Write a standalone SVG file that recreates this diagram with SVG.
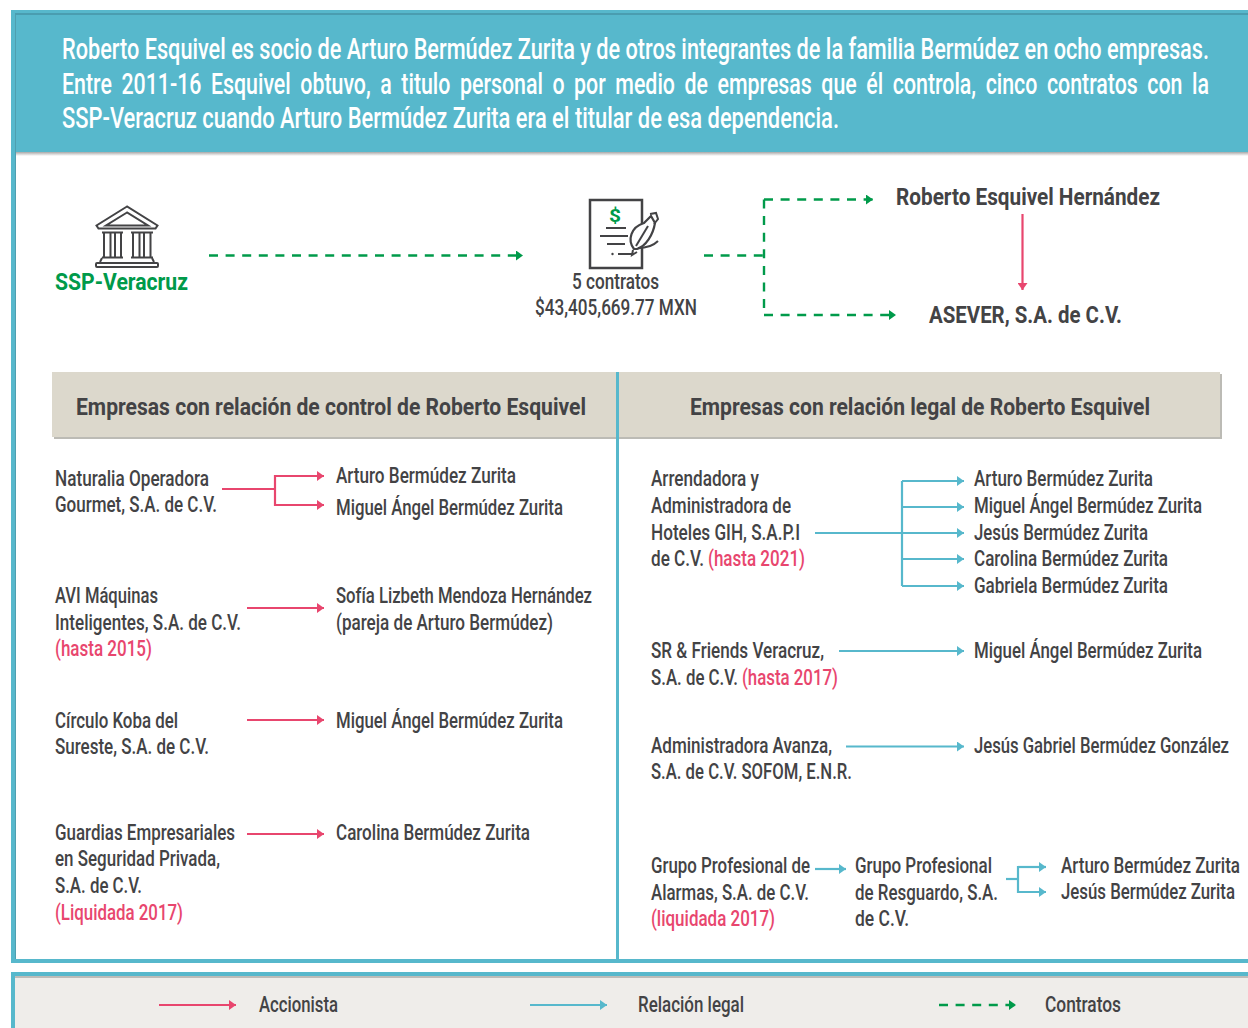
<svg xmlns="http://www.w3.org/2000/svg" width="1248" height="1028" viewBox="0 0 1248 1028">
<style>
text{font-family:"Roboto","Liberation Sans",sans-serif;font-size:22px;font-weight:500;fill:#434345}
.h{font-size:30px;fill:#fff}
.b{font-weight:700;font-size:24px}
.g{fill:#009a4a}
.r{fill:#e8466e}
.p{fill:none;stroke:#e8466e;stroke-width:2.200}
.t{fill:none;stroke:#57b8cc;stroke-width:2.200}
.d{fill:none;stroke:#009a4a;stroke-width:2.400;stroke-dasharray:9 7.6}
.i{fill:none;stroke:#434345;stroke-width:2}
</style>
<defs>
<marker id="ap" markerUnits="userSpaceOnUse" markerWidth="8" markerHeight="10" refX="7" refY="5" orient="auto"><path d="M0 0L7 5L0 10z" fill="#e8466e"/></marker>
<marker id="at" markerUnits="userSpaceOnUse" markerWidth="8" markerHeight="10" refX="7" refY="5" orient="auto"><path d="M0 0L7 5L0 10z" fill="#57b8cc"/></marker>
<marker id="ag" markerUnits="userSpaceOnUse" markerWidth="8" markerHeight="10" refX="7" refY="5" orient="auto"><path d="M0 0L7 5L0 10z" fill="#009a4a"/></marker>
<linearGradient id="sh" x1="0" y1="0" x2="0" y2="1"><stop offset="0" stop-color="#a8a8a8"/><stop offset="1" stop-color="#fff"/></linearGradient>
</defs>

<g id="frame">
<rect x="0" y="0" width="1248" height="1028" fill="#fff"/>
<rect x="11" y="10" width="1237" height="142" fill="#57b8cc"/>
<rect x="15" y="13" width="1233" height="2" fill="#4a9db0"/>
<rect x="15" y="152" width="1233" height="4" fill="url(#sh)"/>
<rect x="11" y="10" width="4" height="952" fill="#57b8cc"/>
<rect x="15" y="15" width="1" height="945" fill="#4f9fb0"/>
<rect x="11" y="959" width="1237" height="4" fill="#57b8cc"/>
<rect x="11" y="972" width="1237" height="56" fill="#efedea"/>
<rect x="11" y="972" width="1237" height="4" fill="#57b8cc"/>
<rect x="11" y="972" width="4" height="56" fill="#57b8cc"/>
<rect x="15" y="976" width="1233" height="2" fill="#bdbcb8"/>
</g>

<g id="intro">
<text class="h" transform="translate(62 59) scale(.75 1)" textLength="1529.300" lengthAdjust="spacingAndGlyphs">Roberto Esquivel es socio de Arturo Bermúdez Zurita y de otros integrantes de la familia Bermúdez en ocho empresas.</text>
<text class="h" transform="translate(62 94) scale(.7 1)" textLength="1638.600" lengthAdjust="spacingAndGlyphs" style="word-spacing:6px">Entre 2011-16 Esquivel obtuvo, a titulo personal o por medio de empresas que él controla, cinco contratos con la</text>
<text class="h" transform="translate(62 128) scale(.75 1)" textLength="1036" lengthAdjust="spacingAndGlyphs">SSP-Veracruz cuando Arturo Bermúdez Zurita era el titular de esa dependencia.</text>
</g>

<g id="ssp">
<path class="i" d="M127 206.500L96.500 225.500L98.500 228.500H155.500L157.500 225.500zM127 212.500L106 225.500H148z"/>
<path class="i" d="M102 232.500H123M131 232.500H153M102 257.500H123M131 257.500H153" stroke-width="2.600"/>
<path class="i" d="M104 233V257M110.500 233V257M115 233V257M121 233V257M133 233V257M139.500 233V257M144 233V257M150.500 233V257"/>
<path class="i" d="M100 262L102 258M154 262L152 258"/>
<rect class="i" x="96" y="263" width="62" height="4" rx="1"/>
<text class="b g" x="55" y="290" textLength="133" lengthAdjust="spacingAndGlyphs">SSP-Veracruz</text>
</g>

<g id="contratos">
<path d="M590 200H642V268H590z" fill="none" stroke="#434345" stroke-width="2.500"/>
<text x="609" y="222" style="font-size:19px;font-weight:700;fill:#009a4a" textLength="12" lengthAdjust="spacingAndGlyphs">$</text>
<path class="i" d="M606 228H626M600 236H628M607 244H625M618 254H633"/>
<circle cx="612.500" cy="254" r="1.200" fill="#434345"/>
<path d="M634 249C627 240 631 227 644 223L651 216L655 223C653 235 646 246 637 249Z" fill="#fff" stroke="#434345" stroke-width="2.200"/>
<path d="M636 246L648 226" class="i"/>
<path class="i" d="M650 214L656 213L658 219L654 224M633 250L632 255L637 252M638 248C646 248 653 246 658 241" stroke-width="2.200"/>
<text x="572" y="289" textLength="87" lengthAdjust="spacingAndGlyphs">5 contratos</text>
<text x="535" y="315" textLength="162" lengthAdjust="spacingAndGlyphs">$43,405,669.77 MXN</text>
</g>

<g id="roberto"><text class="b" transform="translate(896 205) scale(.85 1)" textLength="310.600" lengthAdjust="spacingAndGlyphs">Roberto Esquivel Hernández</text></g>
<g id="asever"><text class="b" x="929" y="323" textLength="193" lengthAdjust="spacingAndGlyphs">ASEVER, S.A. de C.V.</text></g>

<g id="panel-headers">
<rect x="54" y="374" width="1168" height="65" fill="#bcbbb5"/>
<rect x="52" y="372" width="1168" height="65" fill="#dcd8cc"/>
<text class="b" x="76" y="415" textLength="510" lengthAdjust="spacingAndGlyphs">Empresas con relación de control de Roberto Esquivel</text>
<text class="b" x="690" y="415" textLength="460" lengthAdjust="spacingAndGlyphs">Empresas con relación legal de Roberto Esquivel</text>
<rect x="616" y="372" width="3" height="588" fill="#57b8cc"/>
</g>

<g id="control-1">
<text x="55" y="486" textLength="154" lengthAdjust="spacingAndGlyphs">Naturalia Operadora</text>
<text x="55" y="512" textLength="162" lengthAdjust="spacingAndGlyphs">Gourmet, S.A. de C.V.</text>
<text x="336" y="483" textLength="180" lengthAdjust="spacingAndGlyphs">Arturo Bermúdez Zurita</text>
<text x="336" y="515" textLength="227" lengthAdjust="spacingAndGlyphs">Miguel Ángel Bermúdez Zurita</text>
</g>
<g id="control-2">
<text x="55" y="603" textLength="103" lengthAdjust="spacingAndGlyphs">AVI Máquinas</text>
<text x="55" y="630" textLength="186" lengthAdjust="spacingAndGlyphs">Inteligentes, S.A. de C.V.</text>
<text class="r" x="55" y="656" textLength="97" lengthAdjust="spacingAndGlyphs">(hasta 2015)</text>
<text x="336" y="603" textLength="256" lengthAdjust="spacingAndGlyphs">Sofía Lizbeth Mendoza Hernández</text>
<text x="336" y="630" textLength="217" lengthAdjust="spacingAndGlyphs">(pareja de Arturo Bermúdez)</text>
</g>
<g id="control-3">
<text x="55" y="728" textLength="123" lengthAdjust="spacingAndGlyphs">Círculo Koba del</text>
<text x="55" y="754" textLength="154" lengthAdjust="spacingAndGlyphs">Sureste, S.A. de C.V.</text>
<text x="336" y="728" textLength="227" lengthAdjust="spacingAndGlyphs">Miguel Ángel Bermúdez Zurita</text>
</g>
<g id="control-4">
<text x="55" y="840" textLength="180" lengthAdjust="spacingAndGlyphs">Guardias Empresariales</text>
<text x="55" y="866" textLength="165" lengthAdjust="spacingAndGlyphs">en Seguridad Privada,</text>
<text x="55" y="893" textLength="87" lengthAdjust="spacingAndGlyphs">S.A. de C.V.</text>
<text class="r" x="55" y="920" textLength="128" lengthAdjust="spacingAndGlyphs">(Liquidada 2017)</text>
<text x="336" y="840" textLength="194" lengthAdjust="spacingAndGlyphs">Carolina Bermúdez Zurita</text>
</g>

<g id="legal-1">
<text x="651" y="486" textLength="108" lengthAdjust="spacingAndGlyphs">Arrendadora y</text>
<text x="651" y="513" textLength="140" lengthAdjust="spacingAndGlyphs">Administradora de</text>
<text x="651" y="540" textLength="149" lengthAdjust="spacingAndGlyphs">Hoteles GIH, S.A.P.I</text>
<text transform="translate(651 566) scale(.7 1)" textLength="75.700" lengthAdjust="spacingAndGlyphs">de C.V.</text>
<text class="r" transform="translate(708 566) scale(.7 1)" textLength="138.600" lengthAdjust="spacingAndGlyphs">(hasta 2021)</text>
<text x="974" y="486" textLength="179" lengthAdjust="spacingAndGlyphs">Arturo Bermúdez Zurita</text>
<text transform="translate(974 513) scale(.8 1)" textLength="285" lengthAdjust="spacingAndGlyphs">Miguel Ángel Bermúdez Zurita</text>
<text x="974" y="540" textLength="174" lengthAdjust="spacingAndGlyphs">Jesús Bermúdez Zurita</text>
<text x="974" y="566" textLength="194" lengthAdjust="spacingAndGlyphs">Carolina Bermúdez Zurita</text>
<text x="974" y="593" textLength="194" lengthAdjust="spacingAndGlyphs">Gabriela Bermúdez Zurita</text>
</g>
<g id="legal-2">
<text x="651" y="658" textLength="173" lengthAdjust="spacingAndGlyphs">SR &amp; Friends Veracruz,</text>
<text transform="translate(651 685) scale(.7 1)" textLength="124.300" lengthAdjust="spacingAndGlyphs">S.A. de C.V.</text>
<text class="r" transform="translate(742 685) scale(.7 1)" textLength="137.100" lengthAdjust="spacingAndGlyphs">(hasta 2017)</text>
<text transform="translate(974 658) scale(.8 1)" textLength="285" lengthAdjust="spacingAndGlyphs">Miguel Ángel Bermúdez Zurita</text>
</g>
<g id="legal-3">
<text x="651" y="753" textLength="181" lengthAdjust="spacingAndGlyphs">Administradora Avanza,</text>
<text x="651" y="779" textLength="201" lengthAdjust="spacingAndGlyphs">S.A. de C.V. SOFOM, E.N.R.</text>
<text transform="translate(974 753) scale(.8 1)" textLength="318.700" lengthAdjust="spacingAndGlyphs">Jesús Gabriel Bermúdez González</text>
</g>
<g id="legal-4">
<text x="651" y="873" textLength="159" lengthAdjust="spacingAndGlyphs">Grupo Profesional de</text>
<text x="651" y="900" textLength="158" lengthAdjust="spacingAndGlyphs">Alarmas, S.A. de C.V.</text>
<text class="r" x="651" y="926" textLength="124" lengthAdjust="spacingAndGlyphs">(liquidada 2017)</text>
<text x="855" y="873" textLength="137" lengthAdjust="spacingAndGlyphs">Grupo Profesional</text>
<text x="855" y="900" textLength="143" lengthAdjust="spacingAndGlyphs">de Resguardo, S.A.</text>
<text x="855" y="926" textLength="54" lengthAdjust="spacingAndGlyphs">de C.V.</text>
<text transform="translate(1061 873) scale(.75 1)" textLength="238.700" lengthAdjust="spacingAndGlyphs">Arturo Bermúdez Zurita</text>
<text transform="translate(1061 899) scale(.75 1)" textLength="232" lengthAdjust="spacingAndGlyphs">Jesús Bermúdez Zurita</text>
</g>

<g id="legend">
<text x="259" y="1012" textLength="79" lengthAdjust="spacingAndGlyphs">Accionista</text>
<text x="638" y="1012" textLength="106" lengthAdjust="spacingAndGlyphs">Relación legal</text>
<text x="1045" y="1012" textLength="76" lengthAdjust="spacingAndGlyphs">Contratos</text>
</g>

<g id="connectors">
<path class="d" d="M209 255.500H523" marker-end="url(#ag)"/>
<path class="d" d="M704 255.500H764"/>
<path class="d" d="M764 199.500V315"/>
<path class="d" d="M764 199.500H873" marker-end="url(#ag)"/>
<path class="d" d="M764 315H896" marker-end="url(#ag)"/>
<path class="p" d="M1022.500 214V290" marker-end="url(#ap)"/>
<path class="p" d="M222 489H275"/>
<path class="p" d="M324 476H275V505H324" marker-end="url(#ap)"/>
<path class="p" d="M275 476H324" marker-end="url(#ap)"/>
<path class="p" d="M247 608H324" marker-end="url(#ap)"/>
<path class="p" d="M247 720H324" marker-end="url(#ap)"/>
<path class="p" d="M247 834H324" marker-end="url(#ap)"/>
<path class="t" d="M815 533H902"/>
<path class="t" d="M902 481V586"/>
<path class="t" d="M902 481H964" marker-end="url(#at)"/>
<path class="t" d="M902 507H964" marker-end="url(#at)"/>
<path class="t" d="M902 533H964" marker-end="url(#at)"/>
<path class="t" d="M902 559H964" marker-end="url(#at)"/>
<path class="t" d="M902 586H964" marker-end="url(#at)"/>
<path class="t" d="M839 651H964" marker-end="url(#at)"/>
<path class="t" d="M846 746.500H964" marker-end="url(#at)"/>
<path class="t" d="M815 869H846" marker-end="url(#at)"/>
<path class="t" d="M1006 879H1018"/>
<path class="t" d="M1046 867H1018V892H1046" marker-end="url(#at)"/>
<path class="t" d="M1018 867H1046" marker-end="url(#at)"/>
<path class="p" d="M159 1005H236" marker-end="url(#ap)"/>
<path class="t" d="M530 1005H607" marker-end="url(#at)"/>
<path class="d" d="M939 1005H1016" marker-end="url(#ag)"/>
</g>
</svg>
